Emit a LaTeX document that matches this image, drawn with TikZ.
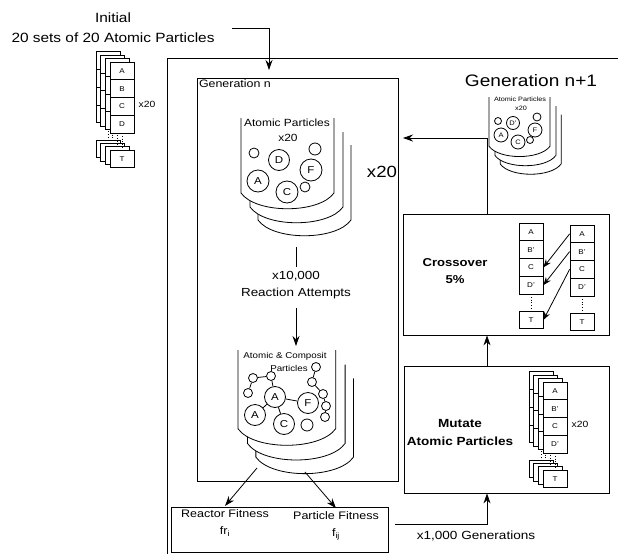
\documentclass[tikz,border=0pt]{standalone}
\usepackage{fontspec}
\setmainfont{Liberation Sans}[FakeStretch=1.15]
\usetikzlibrary{arrows.meta}

\tikzset{
  arr/.style={-{Stealth[length=10pt,width=7pt]}},
  smallarr/.style={-{Stealth[length=8pt,width=6pt]}},
  cell/.style={draw,fill=white,minimum width=24pt,minimum height=17.75pt,inner sep=0pt,font=\fontsize{7}{8}\selectfont},
  ball/.style={draw,circle,inner sep=0pt,minimum size=#1,font=\fontsize{10}{11}\selectfont},
  tinyball/.style={draw,circle,inner sep=0pt,minimum size=#1,font=\fontsize{6.5}{7}\selectfont},
  pics/beaker/.style={code={
    \foreach \dx/\dy in {17/27,9/14,0/0}
      \draw[fill=white] (\dx,\dy) -- (\dx,\dy+75) .. controls (\dx+15,\dy+96) and (\dx+78,\dy+96) .. (\dx+93,\dy+75) -- (\dx+93,\dy);
  }}
}

\newcommand{\cardcol}[8]{%
  \draw[dotted] (#2+12,#3+71) -- (#2+12,#3+88);
  \node[cell] (#1a) at (#2+12,#3+8.875) {#4};
  \node[cell] (#1b) at (#2+12,#3+26.625) {#5};
  \node[cell] (#1c) at (#2+12,#3+44.375) {#6};
  \node[cell] (#1d) at (#2+12,#3+62.125) {#7};
  \node[cell] (#1t) at (#2+12,#3+97) {#8};
}
\newcommand{\cardstack}[7]{%
  \foreach \k in {3,2,1} {\cardcol{#1\k}{#2-4.7*\k}{#3-3.4*\k}{}{}{}{}{}}
  \cardcol{#1}{#2}{#3}{#4}{#5}{#6}{#7}{T}
  \node[anchor=west,font=\fontsize{9}{10}\selectfont] (#1x) at (#2+25,#3+42) {x20};
}

\begin{document}
\begin{tikzpicture}[x=1pt,y=-1pt,line width=0.8pt]
\useasboundingbox (0,0) rectangle (618,554);

\node[align=center,font=\fontsize{13.4}{20}\selectfont] (init) at (113,28) {Initial\\20 sets of 20 Atomic Particles};
\coordinate (inittip) at (269,70);
\draw[arr] ([xshift=14pt]init.east) -| (inittip);
\cardstack{ini}{110}{62}{A}{B}{C}{D}

\draw (618,58) -- (167,58) -- (167,554);

\node[draw,minimum width=201pt,minimum height=403pt] (genn) at (297.5,279.5) {};
\node[anchor=north west,inner sep=2pt,font=\fontsize{10.8}{12}\selectfont] (gennlabel) at (genn.north west) {Generation n};

\pic at (241,118) {beaker};
\node[font=\fontsize{10.4}{12}\selectfont] (b1lab) at (287,123) {Atomic Particles};
\node[font=\fontsize{10.4}{12}\selectfont] (b1num) at (288,138) {x20};
\node[ball=10pt] (b1s1) at (254,153) {};
\node[ball=21pt] (b1d) at (279,160) {D};
\node[ball=12pt] (b1s2) at (315,149) {};
\node[ball=22pt] (b1f) at (311,170) {F};
\node[ball=22pt] (b1a) at (258,181) {A};
\node[ball=22pt] (b1c) at (287,192) {C};
\node[ball=10pt] (b1s3) at (305,187) {};
\node[font=\fontsize{16.2}{18}\selectfont] (xbig) at (382,172) {x20};

\coordinate (reacttop) at (296,247);
\node[align=center,font=\fontsize{11.7}{17}\selectfont] (react) at (296,285) {x10,000\\Reaction Attempts};
\coordinate (reacttip) at (296,346);
\draw (reacttop) -- (react.north);
\draw[arr] ([yshift=-5pt]react.south) -- (reacttip);

\pic[scale=1.05] at (238,350) {beaker};
\node[font=\fontsize{8.5}{10}\selectfont] (b2lab) at (285,356) {Atomic \& Composit};
\node[font=\fontsize{8.5}{10}\selectfont] (b2lab2) at (289,368) {Particles};
\node[ball=9pt] (b2s1) at (248,393) {};
\node[ball=9pt] (b2s2) at (253,378) {};
\node[ball=9pt] (b2s3) at (271,376) {};
\node[ball=21pt] (b2a1) at (275,397) {A};
\node[ball=21pt] (b2a2) at (255,415) {A};
\node[ball=21pt] (b2c) at (284,424) {C};
\node[ball=21pt] (b2f) at (308,403) {F};
\node[ball=12pt] (b2s4) at (307,425) {};
\node[ball=9pt] (b2r1) at (316,367) {};
\node[ball=9pt] (b2r2) at (312,382) {};
\node[ball=9pt] (b2r3) at (323,394) {};
\node[ball=9pt] (b2r4) at (326,406) {};
\node[ball=9pt] (b2r5) at (325,417) {};
\draw (b2s1) -- (b2s2) -- (b2s3) -- (b2a1);
\draw (b2a1) -- (b2a2);
\draw (b2a1) -- (b2c);
\draw (b2a1) -- (b2f);
\draw (b2r1) -- (b2r2) -- (b2r3) -- (b2r4) -- (b2r5);

\node[draw,minimum width=217pt,minimum height=45pt] (fit) at (279.5,529.5) {};
\node[align=center,font=\fontsize{10.9}{17}\selectfont] (rfit) at (225,523) {Reactor Fitness\\fr\textsubscript{i}};
\node[align=center,font=\fontsize{10.9}{17}\selectfont] (pfit) at (336,526) {Particle Fitness\\f\textsubscript{ij}};
\coordinate (fitsrcl) at (257,468);
\coordinate (fitsrcr) at (305,472);
\draw[arr] (fitsrcl) -- (rfit.north);
\draw[arr] (fitsrcr) -- (pfit.north);

\coordinate (linex) at (487,0);
\node[draw,minimum width=205pt,minimum height=127pt] (mutate) at (506.5,429.5) {};
\node[align=center,font=\bfseries\fontsize{11.8}{18}\selectfont] (mutatelabel) at (460,432) {Mutate\\Atomic Particles};
\cardstack{mut}{543}{382}{A}{B'}{C}{D'}
\draw[arr] ([xshift=7pt,yshift=5pt]fit.east) -| (mutate.south -| linex);
\node[font=\fontsize{11.8}{13}\selectfont] (gens) at (476,536) {x1,000 Generations};

\node[draw,minimum width=206pt,minimum height=121pt] (cross) at (506,274.5) {};
\node[align=center,font=\bfseries\fontsize{11.4}{17}\selectfont] (crosslabel) at (455,271) {Crossover\\5\%};
\cardcol{cl}{519}{223}{A}{B'}{C}{D'}{T}
\cardcol{cr}{570}{225}{A}{B'}{C}{D'}{T}
\draw[smallarr] (cra.west) -- (clc.east);
\draw[smallarr] (crb.west) -- (cld.east);
\draw[smallarr] (crc.west) -- (clt.east);
\draw[arr] (mutate.north -| linex) -- (cross.south -| linex);
\coordinate (nexttip) at (403,138);
\draw[arr] (cross.north -| linex) |- (nexttip);

\node[font=\fontsize{16.6}{18}\selectfont] (gennext) at (531,81) {Generation n+1};
\pic[scale=0.656] at (489,97) {beaker};
\node[font=\fontsize{6.3}{7}\selectfont] (b3lab) at (520,99) {Atomic Particles};
\node[font=\fontsize{6.3}{7}\selectfont] (b3num) at (521,108) {x20};
\node[tinyball=7pt] (b3s1) at (498,121) {};
\node[tinyball=13pt] (b3d) at (513,123) {D'};
\node[tinyball=8pt] (b3s2) at (537,117) {};
\node[tinyball=14pt] (b3f) at (535,130) {F};
\node[tinyball=14pt] (b3a) at (501,135) {A};
\node[tinyball=14pt] (b3c) at (518,142) {C};
\node[tinyball=7pt] (b3s3) at (530,140) {};
\end{tikzpicture}
\end{document}
